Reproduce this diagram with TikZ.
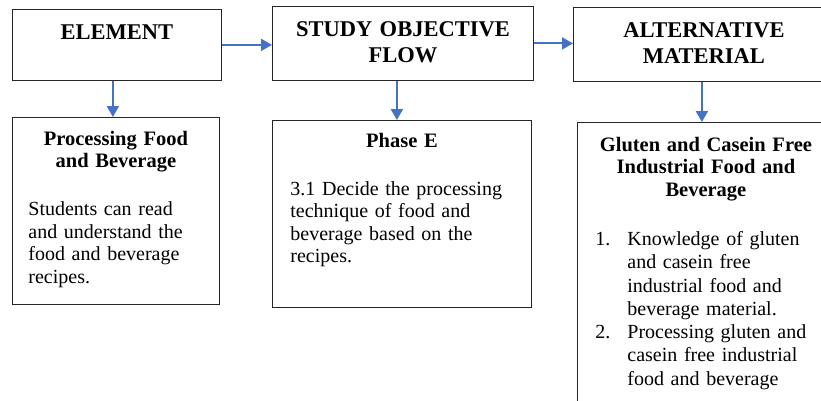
\documentclass[tikz,border=0pt]{standalone}
\usepackage{fontspec}
\setmainfont{Liberation Serif}
\usetikzlibrary{arrows.meta,positioning}
\definecolor{flowblue}{RGB}{68,114,196}
\newcommand{\listentry}[2]{\hangindent=32pt\hangafter=1\noindent\makebox[32pt][l]{#1}#2\par}

\begin{document}
\begin{tikzpicture}[x=1pt,y=-1pt]
\tikzstyle{every node}=[draw=black!85, line width=0.8pt, inner ysep=0pt, align=left, anchor=north west]
\tikzstyle{head}=[inner xsep=0pt, align=center, font=\bfseries\fontsize{22.5}{26}\selectfont, text height=30pt, text depth=44pt]
\tikzstyle{content}=[inner xsep=17pt, font=\fontsize{20}{22.5}\selectfont]
\tikzset{flow/.style={draw=flowblue, line width=2pt, -{Triangle[length=11pt,width=12pt]}}}
\clip (0,0) rectangle (821,400);
\node [head, text width=209pt, text depth=41pt] (element) at (12,9) {ELEMENT};
\node [head, text width=261pt] (study) at (272,6) {STUDY OBJECTIVE\\FLOW};
\node [head, text width=261pt] (alternative) at (573,7) {ALTERNATIVE\\MATERIAL};
\node [content, inner xsep=16pt, text width=175pt, text height=28pt, text depth=159pt] (food) at (12,117)
  {{\centering\bfseries\fontsize{20.5}{22.5}\selectfont Processing Food\\and Beverage\par}
   \vspace{25.5pt}
   Students can read\\and understand the\\food and beverage\\recipes.};
\node [content, inner xsep=18pt, text width=223pt, text height=27pt, text depth=160pt] (phase) at (272,120)
  {{\centering\bfseries\fontsize{20.5}{22.5}\selectfont Phase E\par}
   \vspace{25.5pt}
   3.1 Decide the processing\\technique of food and\\beverage based on the\\recipes.};
\node [content, inner xsep=18pt, text width=221pt, text height=29pt, text depth=300pt] (gluten) at (577,122)
  {{\centering\bfseries\fontsize{20.5}{22.5}\selectfont Gluten and Casein Free\\Industrial Food and\\Beverage\par}
   \vspace{25.7pt}
   {\fontsize{20}{23.3}\selectfont
   \listentry{1.}{Knowledge of gluten\newline and casein free\newline industrial food and\newline beverage material.}
   \listentry{2.}{Processing gluten and\newline casein free industrial\newline food and beverage}}};
\draw[flow] (element.east) -- (element.east -| study.west);
\draw[flow] (study.east) -- (study.east -| alternative.west);
\draw[flow] ([xshift=-4pt]element.south) -- ([xshift=-4pt]element.south |- food.north);
\draw[flow] ([xshift=-6pt]study.south) -- ([xshift=-6pt]study.south |- phase.north);
\draw[flow] ([xshift=-2pt]alternative.south) -- ([xshift=-2pt]alternative.south |- gluten.north);
\end{tikzpicture}
\end{document}
